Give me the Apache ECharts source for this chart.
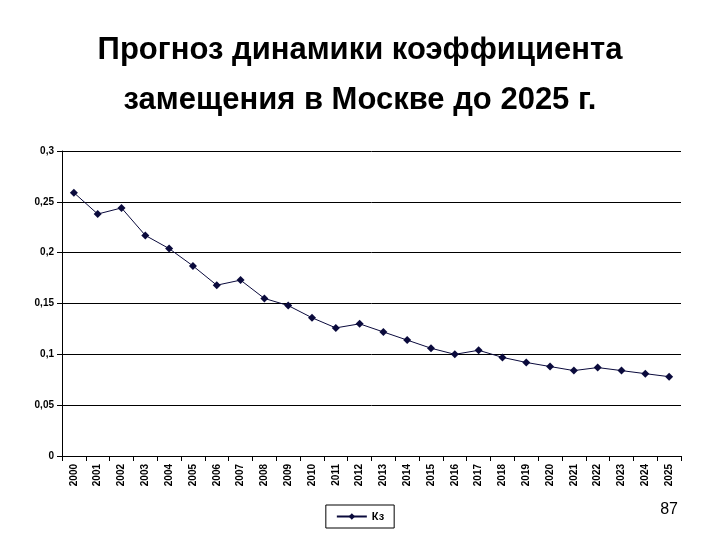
<!DOCTYPE html>
<html>
<head>
<meta charset="utf-8">
<script src="https://cdn.jsdelivr.net/npm/echarts@6/dist/echarts.min.js"></script>
<style>
  html, body { margin: 0; padding: 0; background: #fff; }
  #main { width: 720px; height: 540px; }
</style>
</head>
<body>
<div id="main"></div>
<script>
// годы прогноза
var years = ['2000', '2001', '2002', '2003', '2004', '2005', '2006', '2007', '2008', '2009',
  '2010', '2011', '2012', '2013', '2014', '2015', '2016', '2017', '2018', '2019',
  '2020', '2021', '2022', '2023', '2024', '2025'];
// коэффициент замещения Кз
var kz = [0.259, 0.238, 0.244, 0.217, 0.204, 0.187, 0.168, 0.173, 0.155, 0.148,
  0.136, 0.126, 0.130, 0.122, 0.114, 0.106, 0.100, 0.104, 0.097, 0.092,
  0.088, 0.084, 0.087, 0.084, 0.081, 0.078];

var chart = echarts.init(document.getElementById('main'));
var option = {
  animation: false,
  title: {
    text: 'Прогноз динамики коэффициента\nзамещения в Москве до 2025 г.',
    left: 'center',
    top: 20,
    textStyle: {
      fontFamily: 'Liberation Sans',
      fontSize: 31,
      fontWeight: 'bold',
      lineHeight: 50,
      color: '#000'
    }
  },
  graphic: [{
    type: 'text',
    right: 42,
    bottom: 22,
    style: { text: '87', fontFamily: 'Liberation Sans', fontSize: 16, fill: '#000' }
  }],
  legend: {
    bottom: 12,
    left: 'center',
    padding: [6, 10],
    borderColor: '#000',
    borderWidth: 1,
    itemWidth: 30,
    itemHeight: 8,
    textStyle: { fontFamily: 'Liberation Sans', fontSize: 11, fontWeight: 'bold', color: '#000' },
    data: ['Кз']
  },
  grid: { left: 62, right: 39, top: 151, bottom: 84 },
  xAxis: {
    type: 'category',
    data: years,
    boundaryGap: true,
    axisLine: { lineStyle: { color: '#000' } },
    axisTick: { show: true, alignWithLabel: false, lineStyle: { color: '#000' } },
    axisLabel: {
      rotate: 90,
      interval: 0,
      fontFamily: 'Liberation Sans',
      fontSize: 10,
      fontWeight: 'bold',
      color: '#000'
    }
  },
  yAxis: {
    type: 'value',
    min: 0,
    max: 0.3,
    interval: 0.05,
    axisLine: { show: true, lineStyle: { color: '#000' } },
    axisTick: { show: true, lineStyle: { color: '#000' } },
    splitLine: { lineStyle: { color: '#000', width: 1 } },
    axisLabel: {
      fontFamily: 'Liberation Sans',
      fontSize: 10,
      fontWeight: 'bold',
      color: '#000',
      formatter: function (v) { return String(Math.round(v * 100) / 100).replace('.', ','); }
    }
  },
  series: [{
    name: 'Кз',
    type: 'line',
    data: kz,
    symbol: 'diamond',
    symbolSize: 8,
    itemStyle: { color: '#0a0a3c' },
    lineStyle: { color: '#0a0a3c', width: 1 }
  }]
};
chart.setOption(option);
</script>
</body>
</html>
